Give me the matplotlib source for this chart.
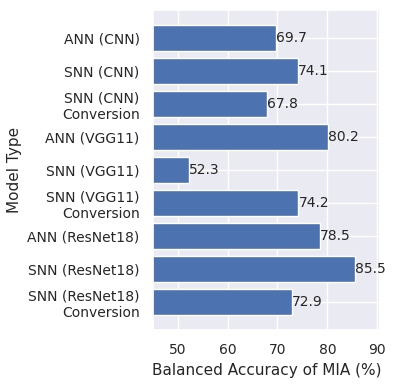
import matplotlib
matplotlib.use("Agg")
import seaborn as sns
from matplotlib import pyplot as plt

models = [
    "ANN (CNN)",
    "SNN (CNN)",
    "SNN (CNN)\nConversion",
    "ANN (VGG11)",
    "SNN (VGG11)",
    "SNN (VGG11)\nConversion",
    "ANN (ResNet18)",
    "SNN (ResNet18)",
    "SNN (ResNet18)\nConversion",
]
accuracy = [69.7, 74.1, 67.8, 80.2, 52.3, 74.2, 78.5, 85.5, 72.9]

sns.set_theme(style="darkgrid")

fig, ax = plt.subplots(figsize=(3.96, 3.85), dpi=100)
bars = ax.barh(models, accuracy, color="#4C72B0")
ax.invert_yaxis()
ax.bar_label(bars, labels=[f"{v:.1f}" for v in accuracy], padding=0, fontsize=10)

ax.set_xlim(45, 90.6)
ax.set_xticks([50, 60, 70, 80, 90])
ax.set_xlabel("Balanced Accuracy of MIA (%)", fontsize=11)
ax.set_ylabel("Model Type", fontsize=11)
ax.tick_params(labelsize=10)

fig.subplots_adjust(left=0.386, right=0.96, top=0.974, bottom=0.143)
fig.savefig("out.png", dpi=100)
